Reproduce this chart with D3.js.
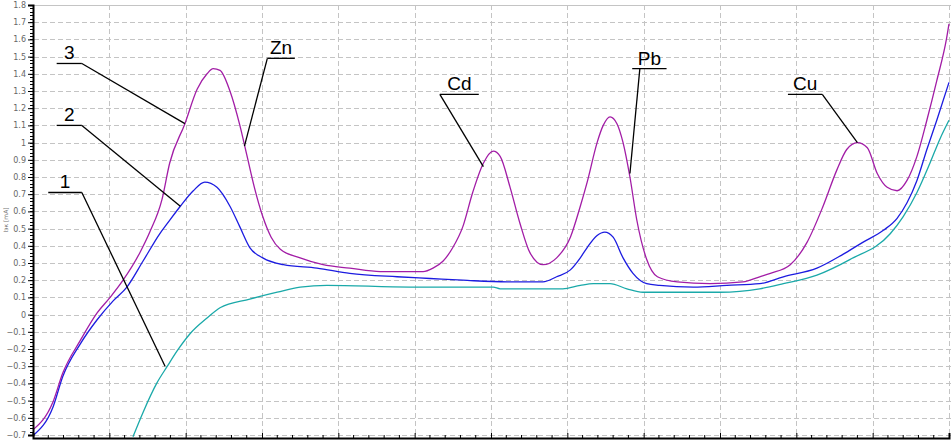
<!DOCTYPE html>
<html>
<head>
<meta charset="utf-8">
<script src="https://cdn.jsdelivr.net/npm/d3@7"></script>
<style>
  body{margin:0;background:#fff;}
  svg{display:block;}
</style>
</head>
<body>
<svg id="main"></svg>
<script>
//--------data----------
// x in grid divisions (no labels on the x axis), y in mA
const curve3 = [
  [0.00,-0.67],[0.26,-0.51],[0.39,-0.34],[0.62,-0.15],[0.84,0.01],[1.01,0.10],[1.18,0.20],
  [1.40,0.36],[1.53,0.48],[1.69,0.67],[1.79,0.88],[1.99,1.11],[2.15,1.31],[2.28,1.40],
  [2.36,1.43],[2.45,1.42],[2.58,1.30],[2.71,1.10],[2.80,0.93],[2.90,0.74],[3.01,0.57],
  [3.12,0.45],[3.24,0.38],[3.50,0.33],[3.80,0.29],[4.15,0.27],[4.55,0.25],[5.11,0.25],[5.24,0.27],
  [5.37,0.31],[5.50,0.39],[5.63,0.51],[5.76,0.71],[5.90,0.88],[6.03,0.95],[6.12,0.92],
  [6.25,0.74],[6.38,0.53],[6.51,0.36],[6.68,0.29],[6.86,0.33],[7.04,0.45],[7.17,0.63],
  [7.26,0.77],[7.39,1.00],[7.47,1.10],[7.56,1.15],[7.65,1.11],[7.73,1.00],[7.82,0.80],
  [7.91,0.55],[8.04,0.32],[8.18,0.22],[8.44,0.19],[8.87,0.18],[9.30,0.19],[9.52,0.22],
  [9.66,0.24],[9.92,0.29],[10.14,0.42],[10.35,0.63],[10.53,0.84],[10.66,0.96],[10.80,1.00],
  [10.93,0.97],[11.06,0.82],[11.19,0.74],[11.32,0.72],[11.45,0.78],[11.58,0.92],[11.71,1.13],
  [11.84,1.36],[11.97,1.61],[12.00,1.69]
];
const curve2 = [
  [0.01,-0.70],[0.26,-0.54],[0.39,-0.36],[0.62,-0.17],[0.84,-0.03],[1.05,0.08],[1.23,0.16],
  [1.44,0.31],[1.66,0.47],[1.76,0.53],[1.93,0.63],[2.10,0.72],[2.25,0.77],[2.41,0.74],
  [2.58,0.63],[2.71,0.51],[2.84,0.39],[3.01,0.33],[3.28,0.29],[3.72,0.27],[4.15,0.24],
  [4.77,0.22],[5.20,0.21],[5.63,0.20],[6.21,0.19],[6.68,0.19],[6.86,0.22],[7.04,0.26],
  [7.17,0.33],[7.26,0.39],[7.39,0.46],[7.49,0.48],[7.60,0.45],[7.73,0.33],[7.86,0.24],
  [8.04,0.18],[8.21,0.17],[8.65,0.16],[9.09,0.17],[9.52,0.18],[9.83,0.22],[10.27,0.27],
  [10.61,0.35],[10.87,0.42],[11.14,0.49],[11.32,0.56],[11.45,0.65],[11.58,0.78],[11.71,0.96],
  [11.84,1.13],[12.00,1.35]
];
const curve1 = [
  [1.31,-0.71],[1.44,-0.57],[1.62,-0.40],[1.76,-0.30],[1.89,-0.21],[2.06,-0.11],[2.28,-0.02],
  [2.45,0.04],[2.84,0.09],[3.20,0.13],[3.50,0.16],[3.85,0.17],[4.94,0.16],[6.03,0.16],
  [6.12,0.15],[6.94,0.15],[7.17,0.17],[7.34,0.18],[7.56,0.18],[7.78,0.15],[7.99,0.13],
  [9.00,0.13],[9.52,0.15],[9.83,0.18],[10.27,0.23],[10.70,0.32],[11.23,0.47],[11.40,0.57],
  [11.58,0.71],[11.75,0.88],[11.88,1.02],[12.00,1.13]
];
const seriesNames = ['1','2','3'];
const seriesColors = ['#1aa9a9','#1c1ce0','#a21da6'];

const yTicks = d3.range(-7, 19).map(i => i/10);
const yLabel = 'Iэк [mA]';

// callout labels: text, underline x-range and height, elbow end, target point on curve
const calloutText   = ['3','2','1','Zn','Cd','Pb','Cu'];
const calloutLine   = [[0.31,0.64,1.46],[0.31,0.64,1.10],[0.20,0.64,0.71],[3.07,3.43,1.49],[5.33,5.84,1.28],[7.85,8.30,1.43],[9.89,10.34,1.28]];
const calloutFrom   = [0.64,0.64,0.64,3.07,5.33,7.95,10.34];
const calloutTarget = [[1.99,1.11],[1.93,0.63],[1.73,-0.30],[2.77,0.98],[5.90,0.86],[7.82,0.82],[10.80,1.00]];

//--------code----------
const width = 951, height = 443;
const svg = d3.select('#main').attr('width', width).attr('height', height);

const sx = d3.scaleLinear().domain([0, 12]).range([33, 949]);
const sy = d3.scaleLinear().domain([-0.7, 1.8]).range([435, 5]);

// grid
svg.append('g')
  .selectAll('line')
  .data(yTicks)
  .join('line')
  .attr('x1', 34).attr('x2', 951)
  .attr('y1', d => Math.round(sy(d)) + 0.5).attr('y2', d => Math.round(sy(d)) + 0.5)
  .attr('stroke', '#c4c4c4')
  .attr('stroke-dasharray', d => d > 1.75 ? null : '5,3');
svg.append('g')
  .selectAll('line')
  .data(d3.range(1, 13))
  .join('line')
  .attr('x1', d => Math.round(sx(d)) + 0.5).attr('x2', d => Math.round(sx(d)) + 0.5)
  .attr('y1', 5).attr('y2', 437)
  .attr('stroke', '#c4c4c4')
  .attr('stroke-dasharray', '5,3');

// curves
const line = d3.line().x(d => sx(d[0])).y(d => sy(d[1])).curve(d3.curveMonotoneX);
svg.append('clipPath').attr('id', 'plot')
  .append('rect').attr('x', 33).attr('y', 0).attr('width', 918).attr('height', 437);
const plot = svg.append('g').attr('clip-path', 'url(#plot)');
[curve1, curve2, curve3].forEach((c, i) => {
  plot.append('path')
    .datum(c)
    .attr('d', line)
    .attr('fill', 'none')
    .attr('stroke', seriesColors[i])
    .attr('stroke-width', 1.3);
});

// y axis
const ay = d3.axisLeft(sy).tickValues(yTicks).tickSize(5).tickPadding(2)
  .tickFormat(d => d3.format('.1~f')(d));
const gy = svg.append('g').attr('transform', 'translate(33,0)').call(ay);
gy.select('.domain').attr('stroke-width', 2);
gy.selectAll('text').attr('fill', '#666').style('font-family', 'DejaVu Sans').style('font-size', '8px');
gy.append('g').selectAll('line')
  .data(d3.range(-70, 181, 2).map(i => i/100))
  .join('line')
  .attr('x1', -3).attr('x2', 0)
  .attr('y1', d => Math.round(sy(d)) + 0.5).attr('y2', d => Math.round(sy(d)) + 0.5)
  .attr('stroke', '#000');

svg.append('text')
  .attr('transform', `translate(8,${sy(0.55)}) rotate(-90)`)
  .attr('text-anchor', 'middle')
  .style('font-family', 'DejaVu Sans')
  .style('font-size', '6px')
  .attr('fill', '#777')
  .text(yLabel);

// x axis (unlabelled)
const ax = d3.axisBottom(sx).tickValues(d3.range(0, 13)).tickSize(-5).tickFormat('');
const gx = svg.append('g').attr('transform', 'translate(0,438)').call(ax);
gx.select('.domain').attr('stroke-width', 2);
gx.append('g').selectAll('line')
  .data(d3.range(0, 60).filter(i => i % 5 !== 0).map(i => i/5))
  .join('line')
  .attr('x1', d => sx(d)).attr('x2', d => sx(d))
  .attr('y1', -3).attr('y2', 0)
  .attr('stroke', '#000');

// callouts
const callouts = svg.append('g');
calloutText.forEach((t, i) => {
  const [x0, x1, yv] = calloutLine[i];
  const py = sy(yv);
  callouts.append('line')
    .attr('x1', sx(x0)).attr('x2', sx(x1)).attr('y1', py).attr('y2', py)
    .attr('stroke', '#000').attr('stroke-width', 1.3);
  callouts.append('line')
    .attr('x1', sx(calloutFrom[i])).attr('y1', py)
    .attr('x2', sx(calloutTarget[i][0])).attr('y2', sy(calloutTarget[i][1]))
    .attr('stroke', '#000').attr('stroke-width', 1.3);
  callouts.append('text')
    .attr('x', (sx(x0) + sx(x1)) / 2)
    .attr('y', py - 4)
    .attr('text-anchor', 'middle')
    .style('font-family', 'Liberation Sans, Arial, sans-serif')
    .style('font-size', '19px')
    .attr('fill', '#000')
    .text(t);
});
</script>
</body>
</html>
